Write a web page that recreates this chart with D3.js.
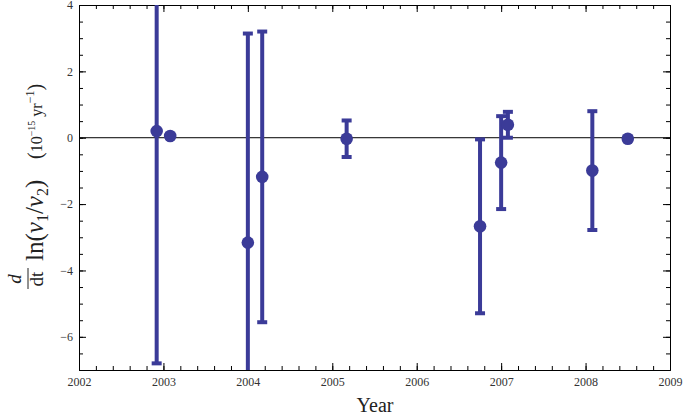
<!DOCTYPE html>
<html>
<head>
<meta charset="utf-8">
<script src="https://cdn.jsdelivr.net/npm/d3@7"></script>
<style>
body { margin: 0; background: #fff; }
svg text { font-family: "Liberation Serif", "DejaVu Serif", serif; }
</style>
</head>
<body>
<div class="container"></div>
<script>
var years  = [2002.92, 2003.08, 2004.00, 2004.17, 2005.17, 2006.75, 2007.00, 2007.08, 2008.08, 2008.50];
var values = [0.20, 0.05, -3.16, -1.18, -0.03, -2.67, -0.75, 0.39, -0.99, -0.03];
var errors = [7.00, 0.05, 6.30, 4.38, 0.55, 2.62, 1.40, 0.39, 1.79, 0.05];

var xTicks = [2002, 2003, 2004, 2005, 2006, 2007, 2008, 2009];
var yTicks = [-6, -4, -2, 0, 2, 4];

var W = 685, H = 416;
var pLeft = 79, pRight = 670, pTop = 5, pBottom = 370;
var col = '#3b3b98';

var svg = d3.select('.container').append('svg')
  .attr('width', W)
  .attr('height', H);

var x = d3.scaleLinear().domain([2002, 2009]).range([pLeft, pRight]);
var y = d3.scaleLinear().domain([-7, 4]).range([pBottom, pTop]);

var minorX = d3.range(2002, 2009.001, 0.2);
var minorY = d3.range(-7, 4.001, 0.5);

function styleAxis(g) {
  g.selectAll('path').attr('stroke', '#000').attr('stroke-width', 1);
  g.selectAll('line').attr('stroke', '#000').attr('stroke-width', 1);
  g.selectAll('text').attr('fill', '#333').style('font-size', '12px');
}

// bottom
svg.append('g').attr('transform', 'translate(0,' + pBottom + ')')
  .call(d3.axisBottom(x).tickValues(minorX).tickFormat('').tickSizeInner(-4).tickSizeOuter(0))
  .call(styleAxis);
svg.append('g').attr('transform', 'translate(0,' + pBottom + ')')
  .call(d3.axisBottom(x).tickValues(xTicks).tickFormat(d3.format('d')).tickSizeInner(-7).tickSizeOuter(0).tickPadding(7))
  .call(styleAxis);
// top
svg.append('g').attr('transform', 'translate(0,' + pTop + ')')
  .call(d3.axisTop(x).tickValues(minorX).tickFormat('').tickSizeInner(-4).tickSizeOuter(0))
  .call(styleAxis);
svg.append('g').attr('transform', 'translate(0,' + pTop + ')')
  .call(d3.axisTop(x).tickValues(xTicks).tickFormat('').tickSizeInner(-7).tickSizeOuter(0))
  .call(styleAxis);
// left
svg.append('g').attr('transform', 'translate(' + pLeft + ',0)')
  .call(d3.axisLeft(y).tickValues(minorY).tickFormat('').tickSizeInner(-4).tickSizeOuter(0))
  .call(styleAxis);
svg.append('g').attr('transform', 'translate(' + pLeft + ',0)')
  .call(d3.axisLeft(y).tickValues(yTicks).tickFormat(d3.format('d')).tickSizeInner(-7).tickSizeOuter(0).tickPadding(6))
  .call(styleAxis);
// right
svg.append('g').attr('transform', 'translate(' + pRight + ',0)')
  .call(d3.axisRight(y).tickValues(minorY).tickFormat('').tickSizeInner(-4).tickSizeOuter(0))
  .call(styleAxis);
svg.append('g').attr('transform', 'translate(' + pRight + ',0)')
  .call(d3.axisRight(y).tickValues(yTicks).tickFormat('').tickSizeInner(-7).tickSizeOuter(0))
  .call(styleAxis);

// zero line
svg.append('line')
  .attr('x1', x(2002)).attr('x2', x(2009))
  .attr('y1', y(0)).attr('y2', y(0))
  .attr('stroke', '#000').attr('stroke-width', 1);

svg.append('clipPath').attr('id', 'plot')
  .append('rect')
  .attr('x', pLeft).attr('y', pTop)
  .attr('width', pRight - pLeft).attr('height', pBottom - pTop);

var pts = svg.append('g').attr('clip-path', 'url(#plot)');

var idx = d3.range(years.length);

// error bars
pts.selectAll('line.err').data(idx).enter().append('line')
  .attr('class', 'err')
  .attr('x1', (i) => x(years[i])).attr('x2', (i) => x(years[i]))
  .attr('y1', (i) => y(values[i] + errors[i]))
  .attr('y2', (i) => y(values[i] - errors[i]))
  .attr('stroke', col).attr('stroke-width', 4);

pts.selectAll('line.capTop').data(idx).enter().append('line')
  .attr('class', 'capTop')
  .attr('x1', (i) => x(years[i]) - 5).attr('x2', (i) => x(years[i]) + 5)
  .attr('y1', (i) => y(values[i] + errors[i]))
  .attr('y2', (i) => y(values[i] + errors[i]))
  .attr('stroke', col).attr('stroke-width', 4);

pts.selectAll('line.capBot').data(idx).enter().append('line')
  .attr('class', 'capBot')
  .attr('x1', (i) => x(years[i]) - 5).attr('x2', (i) => x(years[i]) + 5)
  .attr('y1', (i) => y(values[i] - errors[i]))
  .attr('y2', (i) => y(values[i] - errors[i]))
  .attr('stroke', col).attr('stroke-width', 4);

pts.selectAll('circle').data(idx).enter().append('circle')
  .attr('cx', (i) => x(years[i]))
  .attr('cy', (i) => y(values[i]))
  .attr('r', 6.3)
  .attr('fill', col);

// x label
svg.append('text')
  .attr('x', 375).attr('y', 412)
  .attr('text-anchor', 'middle')
  .style('font-size', '20px')
  .attr('fill', '#222')
  .text('Year');

// y label: d/dt ln(v1/v2) (10^-15 yr^-1)
var yl = svg.append('g').attr('transform', 'translate(0,184) rotate(-90)');
yl.append('text')
  .attr('x', -95).attr('y', 21)
  .attr('text-anchor', 'middle')
  .style('font-size', '19px').style('font-style', 'italic')
  .attr('fill', '#222')
  .text('d');
yl.append('line')
  .attr('x1', -105).attr('x2', -84)
  .attr('y1', 28).attr('y2', 28)
  .attr('stroke', '#222').attr('stroke-width', 1);
yl.append('text')
  .attr('x', -95).attr('y', 43)
  .attr('text-anchor', 'middle')
  .style('font-size', '19px')
  .attr('fill', '#222')
  .text('dt');

var ln = yl.append('text')
  .attr('x', -77).attr('y', 43)
  .style('font-size', '25px')
  .attr('fill', '#222');
ln.append('tspan').text('ln(');
ln.append('tspan').style('font-style', 'italic').text('ν');
ln.append('tspan').attr('dy', 5).style('font-size', '16px').text('1');
ln.append('tspan').attr('dy', -5).text('/');
ln.append('tspan').style('font-style', 'italic').text('ν');
ln.append('tspan').attr('dy', 5).style('font-size', '16px').text('2');
ln.append('tspan').attr('dy', -5).text(')');

var un = yl.append('text')
  .attr('x', 25).attr('y', 42)
  .style('font-size', '16px')
  .attr('fill', '#222');
un.append('tspan').style('font-size', '20px').text('(');
un.append('tspan').text('10');
un.append('tspan').attr('dy', -7).style('font-size', '10px').text('−15');
un.append('tspan').attr('dy', 7).text(' yr');
un.append('tspan').attr('dy', -8).style('font-size', '12px').text('−1');
un.append('tspan').attr('dy', 8).style('font-size', '20px').text(')');
</script>
</body>
</html>
